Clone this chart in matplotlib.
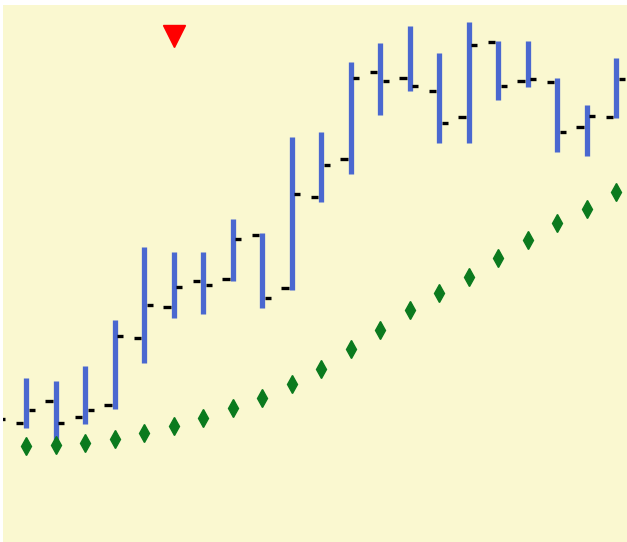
import matplotlib
matplotlib.use("Agg")
import matplotlib.pyplot as plt
import numpy as np

# OHLC data (bar index 0 is only partly visible at the left edge)
bar_index = list(range(0, 22))
opens  = [115, 117, 139, 123, 135, 202, 233, 259, 261, 305, 252, 343, 381, 468, 462, 449, 423, 498, 459, 458, 413, 423]
highs  = [140, 162, 159, 174, 220, 293, 288, 288, 321, 307, 403, 408, 478, 497, 514, 487, 518, 499, 499, 462, 435, 482]
lows   = [112, 112, 100, 116, 131, 177, 222, 226, 259, 232, 250, 338, 366, 425, 449, 397, 397, 440, 453, 388, 384, 422]
closes = [121, 130, 117, 130, 204, 235, 253, 255, 301, 242, 346, 375, 462, 459, 454, 417, 495, 454, 461, 408, 424, 461]

# moving-average style diamonds (none for bar 0)
ma_values = [np.nan, 94, 95, 97, 101, 107, 114, 122, 132, 142, 156, 171, 191, 210, 230, 247, 263, 282, 300, 317, 331, 348]

# signal marker
signal_index = [6]
signal_value = [504.5]

fig = plt.figure(figsize=(6.27, 5.42), dpi=100)
fig.patch.set_facecolor("white")
ax = fig.add_axes([3 / 627, 0, 624 / 627, 537 / 542])
ax.set_facecolor("#FAF8D0")

x = np.array(bar_index, dtype=float)
ax.vlines(x, lows, highs, color="#4A68D0", linewidth=3.8, zorder=2)
ax.hlines(opens, x - 0.34, x - 0.09, color="black", linewidth=2.4, zorder=3)
ax.hlines(closes, x + 0.09, x + 0.30, color="black", linewidth=2.4, zorder=3)

ax.plot(x, ma_values, linestyle="none", marker="d", markersize=9,
        color="#0B7A1E", markeredgecolor="#0B7A1E", zorder=4)

ax.plot(signal_index, signal_value, linestyle="none", marker="v", markersize=16,
        color="#FF0000", markeredgecolor="#FF0000", zorder=5)

ax.set_xlim((3 - 26) / 29.5 + 1, (627 - 26) / 29.5 + 1)
ax.set_ylim(-2, 535)
ax.set_xticks([])
ax.set_yticks([])
for s in ax.spines.values():
    s.set_visible(False)

fig.savefig("out.png", dpi=100, facecolor=fig.get_facecolor())
